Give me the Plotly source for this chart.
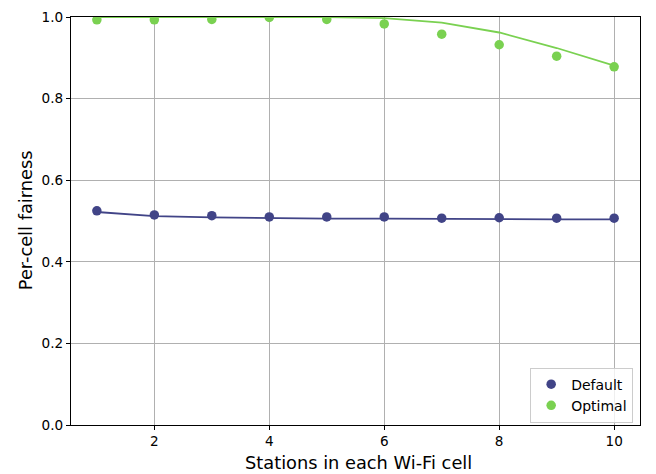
import plotly.graph_objects as go

stations = [1, 2, 3, 4, 5, 6, 7, 8, 9, 10]
default_points = [0.525, 0.515, 0.513, 0.510, 0.510, 0.510, 0.507, 0.508, 0.507, 0.507]
default_line = [0.522, 0.512, 0.509, 0.507, 0.506, 0.506, 0.505, 0.505, 0.504, 0.504]
optimal_points = [0.993, 0.993, 0.994, 0.999, 0.994, 0.983, 0.958, 0.932, 0.904, 0.878]
optimal_line = [1.0, 1.0, 1.0, 1.0, 1.0, 0.997, 0.986, 0.962, 0.924, 0.881]

c_default = "#414487"
c_optimal = "#7AD151"

fig = go.Figure()
fig.add_trace(go.Scatter(x=stations, y=default_line, mode="lines",
                         line=dict(color=c_default, width=1.8), showlegend=False))
fig.add_trace(go.Scatter(x=stations, y=optimal_line, mode="lines",
                         line=dict(color=c_optimal, width=1.8), showlegend=False))
fig.add_trace(go.Scatter(x=stations, y=default_points, mode="markers", name="Default",
                         marker=dict(color=c_default, size=9.5)))
fig.add_trace(go.Scatter(x=stations, y=optimal_points, mode="markers", name="Optimal",
                         marker=dict(color=c_optimal, size=9.5)))

axis_common = dict(showline=True, mirror=True, linecolor="black", linewidth=1.2,
                   ticks="outside", ticklen=4, tickcolor="black", tickwidth=1,
                   showgrid=True, gridcolor="#b0b0b0", gridwidth=1, zeroline=False,
                   automargin=False, tickfont=dict(size=13.6, color="black"))

fig.update_xaxes(range=[0.55, 10.45], tickvals=[2, 4, 6, 8, 10], **axis_common)
fig.update_yaxes(range=[0, 1.0], tickvals=[0, 0.2, 0.4, 0.6, 0.8, 1.0],
                 ticktext=["0.0", "0.2", "0.4", "0.6", "0.8", "1.0"], **axis_common)

fig.add_annotation(text="Stations in each Wi-Fi cell", xref="paper", yref="paper",
                   x=0.505, y=-0.0907, xanchor="center", yanchor="middle",
                   showarrow=False, font=dict(size=17.8, color="black"))
fig.add_annotation(text="Per-cell fairness", xref="paper", yref="paper",
                   x=-0.0808, y=0.502, xanchor="center", yanchor="middle", textangle=-90,
                   showarrow=False, font=dict(size=17.8, color="black"))

fig.update_layout(
    width=656, height=474,
    margin=dict(l=71, r=16, t=17, b=49),
    plot_bgcolor="white", paper_bgcolor="white",
    font=dict(family="DejaVu Sans", color="black"),
    legend=dict(x=0.988, y=0.006, xanchor="right", yanchor="bottom",
                bgcolor="rgba(255,255,255,0.8)", bordercolor="#cccccc", borderwidth=1,
                font=dict(size=14), itemwidth=30),
)

fig.write_html("out.html")
